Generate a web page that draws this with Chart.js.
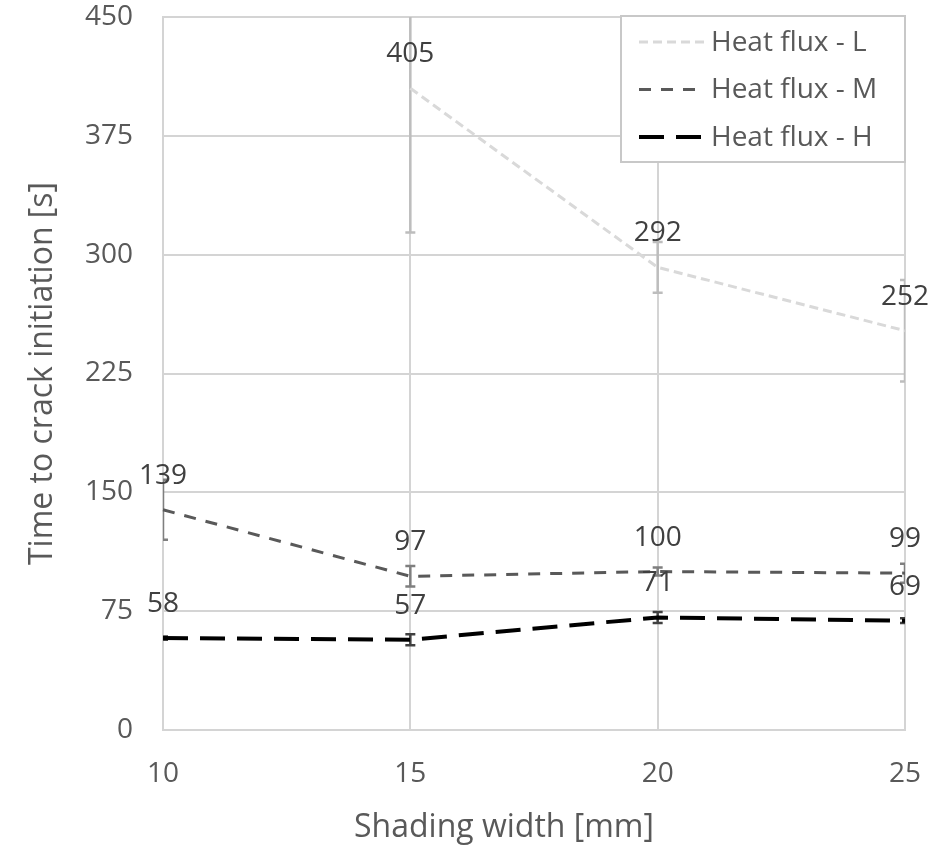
<!DOCTYPE html>
<html>
<head>
<meta charset="utf-8">
<script src="https://cdn.jsdelivr.net/npm/chart.js@4.4.0/dist/chart.umd.min.js"></script>
<style>
  html, body { margin: 0; padding: 0; background: #fff; }
  #wrap { width: 945px; height: 848px; }
</style>
</head>
<body>
<div id="wrap"><canvas id="chart"></canvas></div>
<script>
// Data
const shadingWidths = ['10', '15', '20', '25'];
const fluxL = [null, 405, 292, 252];
const fluxM = [139, 97, 100, 99];
const fluxH = [58, 57, 71, 69];
// error bar half-lengths (estimated)
const errL = [null, 91, 16, 32];
const errM = [19, 6.5, 2.5, 6];
const errH = [1, 3.5, 3.5, 1.5];

const FONT = '"Open Sans", "Noto Sans", sans-serif';
const GRID = '#d4d4d4';
const TEXT = '#595959';

// Error bars, drawn under the lines
const errorBars = {
    id: 'errorBars',
    beforeDatasetsDraw(chart) {
        const { ctx, chartArea, scales } = chart;
        ctx.save();
        ctx.beginPath();
        ctx.rect(chartArea.left, chartArea.top, chartArea.width, chartArea.height);
        ctx.clip();
        chart.data.datasets.forEach((ds, i) => {
            const meta = chart.getDatasetMeta(i);
            ctx.strokeStyle = ds.errColor;
            ctx.lineWidth = 2.5;
            ctx.setLineDash([]);
            meta.data.forEach((pt, j) => {
                const v = ds.data[j];
                const e = ds.errors[j];
                if (v == null || e == null) return;
                const x = pt.x;
                const yTop = scales.y.getPixelForValue(v + e);
                const yBot = scales.y.getPixelForValue(v - e);
                ctx.beginPath();
                ctx.moveTo(x, yTop); ctx.lineTo(x, yBot);
                ctx.moveTo(x - 5, yTop); ctx.lineTo(x + 5, yTop);
                ctx.moveTo(x - 5, yBot); ctx.lineTo(x + 5, yBot);
                ctx.stroke();
            });
        });
        ctx.restore();
    }
};

// Value labels above each point
const valueLabels = {
    id: 'valueLabels',
    afterDatasetsDraw(chart) {
        const { ctx } = chart;
        ctx.save();
        ctx.font = '28px ' + FONT;
        ctx.fillStyle = '#404040';
        ctx.textAlign = 'center';
        ctx.textBaseline = 'middle';
        chart.data.datasets.forEach((ds, i) => {
            const meta = chart.getDatasetMeta(i);
            meta.data.forEach((pt, j) => {
                const v = ds.data[j];
                if (v == null) return;
                ctx.fillText(String(v), pt.x, pt.y - 34);
            });
        });
        ctx.restore();
    }
};

// Boxed legend in the top right corner of the plot
const boxLegend = {
    id: 'boxLegend',
    afterDraw(chart) {
        const { ctx, chartArea } = chart;
        const w = 284, h = 146;
        const left = chartArea.right - w;
        const top = chartArea.top - 1;
        ctx.save();
        ctx.fillStyle = '#fff';
        ctx.fillRect(left, top, w, h);
        ctx.strokeStyle = '#c8c8c8';
        ctx.lineWidth = 2;
        ctx.strokeRect(left, top, w, h);
        ctx.font = '28px ' + FONT;
        ctx.textBaseline = 'middle';
        ctx.textAlign = 'left';
        chart.data.datasets.forEach((ds, i) => {
            const y = top + 26 + i * 47.5;
            ctx.strokeStyle = ds.borderColor;
            ctx.lineWidth = ds.borderWidth;
            ctx.setLineDash(ds.borderDash);
            ctx.beginPath();
            ctx.moveTo(left + 18, y);
            ctx.lineTo(left + 83, y);
            ctx.stroke();
            ctx.setLineDash([]);
            ctx.fillStyle = TEXT;
            ctx.fillText(ds.label, left + 90, y + 1);
        });
        ctx.restore();
    }
};

// x axis title sits a bit left of the plot centre in the original
const xTitle = {
    id: 'xTitle',
    afterDraw(chart) {
        const { ctx, chartArea } = chart;
        ctx.save();
        ctx.font = '32px ' + FONT;
        ctx.fillStyle = TEXT;
        ctx.textAlign = 'center';
        ctx.textBaseline = 'middle';
        ctx.fillText('Shading width [mm]', (chartArea.left + chartArea.right) / 2 - 30, chart.height - 20);
        ctx.restore();
    }
};

const ctx = document.getElementById('chart').getContext('2d');
new Chart(ctx, {
    type: 'line',
    data: {
        labels: shadingWidths,
        datasets: [
            {
                label: 'Heat flux - L',
                data: fluxL,
                errors: errL,
                errColor: '#bdbdbd',
                borderColor: '#d9d9d9',
                borderWidth: 3,
                borderDash: [9, 5],
                pointRadius: 0,
                spanGaps: false,
            },
            {
                label: 'Heat flux - M',
                data: fluxM,
                errors: errM,
                errColor: '#7f7f7f',
                borderColor: '#595959',
                borderWidth: 3,
                borderDash: [12, 10],
                pointRadius: 0,
            },
            {
                label: 'Heat flux - H',
                data: fluxH,
                errors: errH,
                errColor: '#404040',
                borderColor: '#000000',
                borderWidth: 4,
                borderDash: [25, 12],
                pointRadius: 0,
            },
        ]
    },
    options: {
        responsive: true,
        maintainAspectRatio: false,
        animation: false,
        layout: { padding: { left: 24, right: 40, top: 17, bottom: 0 } },
        scales: {
            x: {
                type: 'category',
                offset: false,
                grid: { color: GRID, lineWidth: 2, drawTicks: false },
                border: { color: GRID, width: 2 },
                ticks: { color: TEXT, font: { family: FONT, size: 28 }, padding: 27, maxRotation: 0 },
                title: { display: false },
                afterFit(scale) { scale.height = 118; scale.paddingLeft = 0; scale.paddingRight = 0; }
            },
            y: {
                min: 0,
                max: 450,
                grid: { color: GRID, lineWidth: 2, drawTicks: false },
                border: { color: GRID, width: 2 },
                ticks: { stepSize: 75, color: TEXT, font: { family: FONT, size: 28 }, padding: 30 },
                title: { display: true, text: 'Time to crack initiation [s]', color: TEXT, font: { family: FONT, size: 32 }, padding: 0 },
                afterFit(scale) { scale.width = 139; scale.paddingTop = 0; scale.paddingBottom = 0; }
            }
        },
        plugins: {
            legend: { display: false },
            tooltip: { enabled: false }
        }
    },
    plugins: [errorBars, valueLabels, boxLegend, xTitle]
});
</script>
</body>
</html>
